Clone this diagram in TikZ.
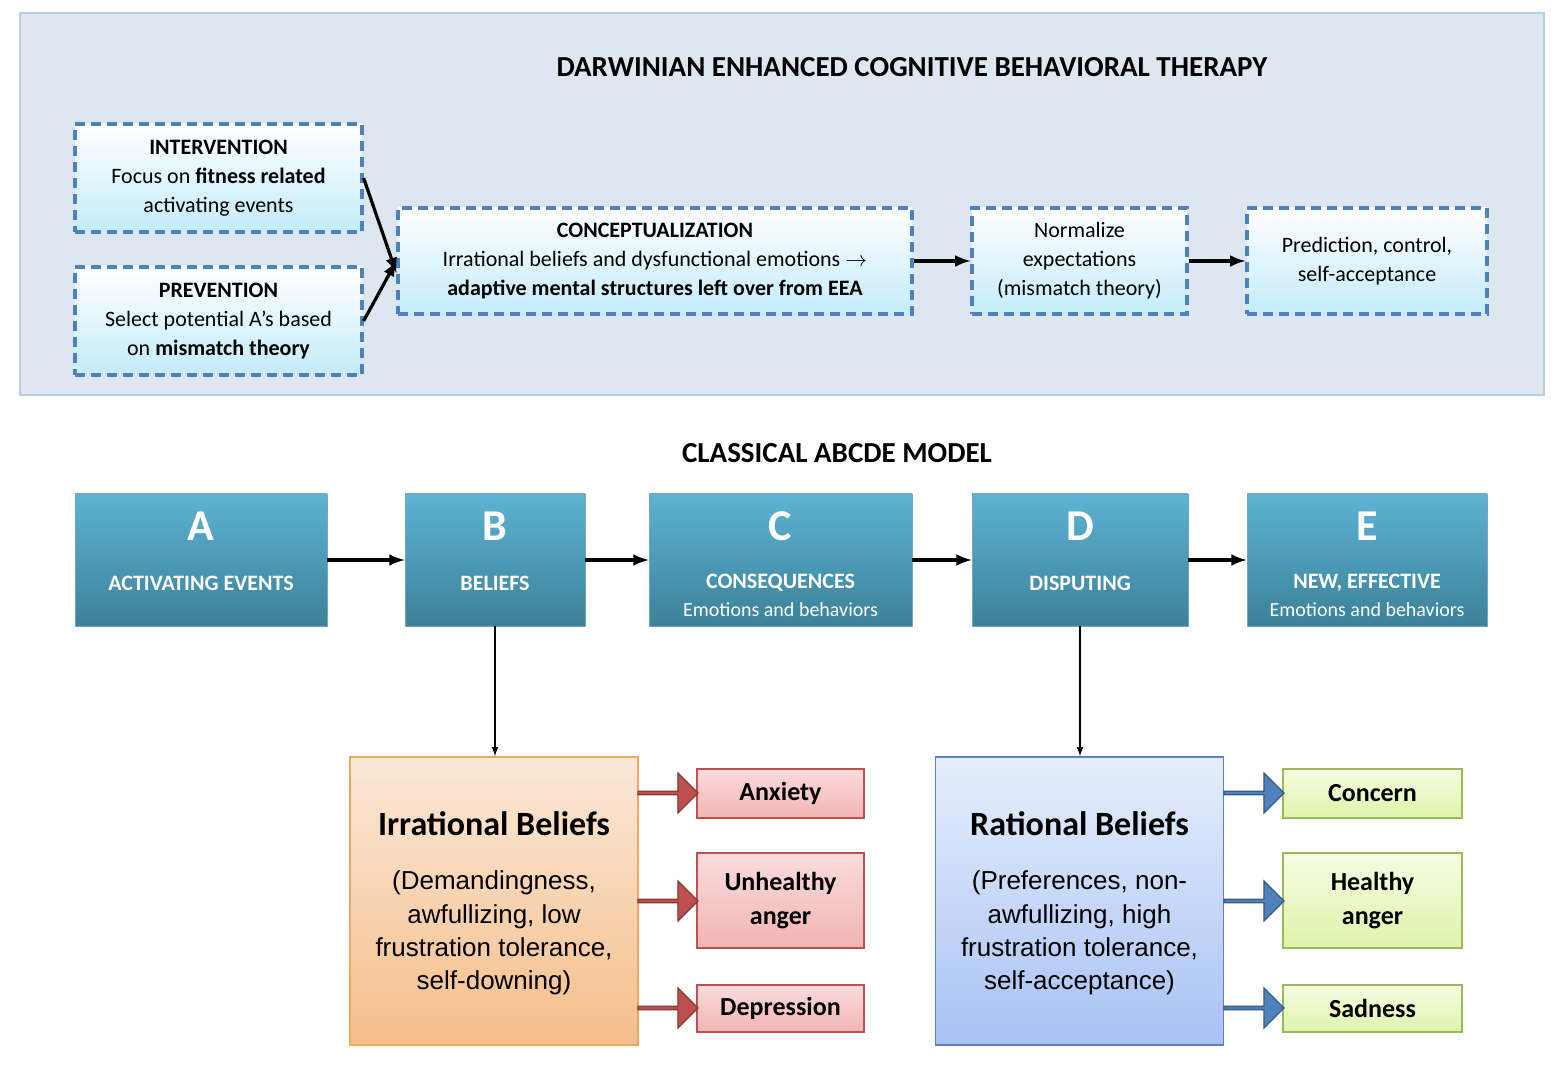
\documentclass[tikz,border=0pt]{standalone}
\usepackage{fontspec}
\setmainfont{Carlito}
\newfontfamily\arialfont{Liberation Sans}
\usetikzlibrary{shapes.arrows}
\definecolor{panelfill}{HTML}{DEE6EF}
\definecolor{panelline}{HTML}{B8CCE4}
\definecolor{dashline}{HTML}{4F81BD}
\definecolor{cyanlight}{HTML}{C3ECFA}
\definecolor{steptop}{HTML}{5DB3D3}
\definecolor{stepbot}{HTML}{3C8199}
\definecolor{orangetop}{HTML}{FBE8D8}
\definecolor{orangebot}{HTML}{F5BE8A}
\definecolor{orangeline}{HTML}{F0A860}
\definecolor{bluetop}{HTML}{E6EEFD}
\definecolor{bluebot}{HTML}{A8C2F4}
\definecolor{blueline}{HTML}{5B80C8}
\definecolor{pinktop}{HTML}{FADCDC}
\definecolor{pinkbot}{HTML}{F1B4B4}
\definecolor{redline}{HTML}{C0504D}
\definecolor{greentop}{HTML}{F6FCE4}
\definecolor{greenbot}{HTML}{DDF4AA}
\definecolor{greenline}{HTML}{9BBB59}
\begin{document}
\begin{tikzpicture}
        [x=0.5pt, y=-0.5pt,
        plan/.style={draw=dashline, dashed, line width=1.6pt, dash pattern=on 5pt off 3pt,
            top color=white, bottom color=cyanlight, align=center, font=\fontsize{11}{14.5}\selectfont,
            inner sep=2pt},
        stage/.style={draw=stepbot!70, top color=steptop, bottom color=stepbot, minimum height=66pt},
        stagetext/.style={text=white, font=\bfseries\fontsize{11}{13}\selectfont},
        belief/.style={minimum width=144pt, minimum height=144pt, line width=0.8pt},
        feel/.style={align=center, font=\bfseries\fontsize{13}{17}\selectfont, line width=0.8pt},
        emo/.style={feel, draw=redline, top color=pinktop, bottom color=pinkbot, minimum width=83.5pt},
        calm/.style={feel, draw=greenline, top color=greentop, bottom color=greenbot, minimum width=89.5pt},
        block/.style={single arrow, minimum height=30pt, minimum width=20pt, single arrow head extend=3pt,
            inner sep=0pt, line width=0.6pt},
        link/.style={-latex, line width=1.6pt},
        thin/.style={-latex, line width=0.6pt},
        inner sep=0pt]

        \useasboundingbox (0,0) rectangle (1562,1068);

        % --- Top panel ---
        \draw[panelline, fill=panelfill, line width=1pt] (20,13) rectangle (1544,395);
        \node[font=\bfseries\fontsize{14.5}{17}\selectfont] (dtitle) at (912,67)
            {DARWINIAN ENHANCED COGNITIVE BEHAVIORAL THERAPY};

        \node[plan, minimum width=143.5pt, minimum height=54pt] (interv) at (218.5,178)
            {\textbf{INTERVENTION}\\Focus on \textbf{fitness related}\\activating events};
        \node[plan, minimum width=143.5pt, minimum height=54pt] (prevent) at (218.5,321)
            {\textbf{PREVENTION}\\Select potential A's based\\on \textbf{mismatch theory}};
        \node[plan, minimum width=257pt, minimum height=53pt] (concept) at (655,261)
            {\textbf{CONCEPTUALIZATION}\\Irrational beliefs and dysfunctional emotions $\rightarrow$\\\textbf{adaptive mental structures left over from EEA}};
        \node[plan, minimum width=107.5pt, minimum height=53pt] (normal) at (1079.5,261)
            {Normalize\\expectations\\(mismatch theory)};
        \node[plan, minimum width=120pt, minimum height=53pt] (predict) at (1367,261)
            {Prediction, control,\\self-acceptance};

        \draw[link] (interv.east) -- ([yshift=-6pt]concept.west);
        \draw[link] (prevent.east) -- ([yshift=0pt]concept.west);
        \draw[link] (concept) -- (normal);
        \draw[link] (normal) -- (predict);

        % --- Classical model ---
        \node[font=\bfseries\fontsize{14.5}{17}\selectfont] (ctitle) at (837,453) {CLASSICAL ABCDE MODEL};

        \foreach \name/\cx/\w/\letter/\lbl/\sub in {
            a/201/126/A/ACTIVATING EVENTS/,
            b/495/90/B/BELIEFS/,
            c/780.5/131.5/C/CONSEQUENCES/Emotions and behaviors,
            d/1080/108/D/DISPUTING/,
            e/1367/120/E/{NEW, EFFECTIVE}/Emotions and behaviors} {
            \node[stage, minimum width=\w pt] (\name) at (\cx,560) {};
            \node[stagetext, font=\bfseries\fontsize{22}{24}\selectfont] (\name l) at (\cx,526) {\letter};
            \node[stagetext] (\name t) at (\cx,583) {\lbl};
            \node[text=white, font=\fontsize{10}{12}\selectfont] (\name s) at (\cx,610) {\sub};
        }

        \draw[link] (a) -- (b);
        \draw[link] (b) -- (c);
        \draw[link] (c) -- (d);
        \draw[link] (d) -- (e);

        % --- Beliefs ---
        \node[belief, draw=orangeline, top color=orangetop, bottom color=orangebot] (irr) at (494,901) {};
        \node[font=\bfseries\fontsize{17}{20}\selectfont] (irrt) at (494,824) {Irrational Beliefs};
        \node[align=center, font=\arialfont\fontsize{13}{16.7}\selectfont] (irrx) at (494,933)
            {(Demandingness,\\awfullizing, low\\frustration tolerance,\\self-downing)};

        \node[belief, draw=blueline, top color=bluetop, bottom color=bluebot] (rat) at (1079.5,901) {};
        \node[font=\bfseries\fontsize{17}{20}\selectfont] (ratt) at (1079.5,824) {Rational Beliefs};
        \node[align=center, font=\arialfont\fontsize{13}{16.7}\selectfont] (ratx) at (1079.5,933)
            {(Preferences, non-\\awfullizing, high\\frustration tolerance,\\self-acceptance)};

        \draw[thin] (b) -- (b |- irr.north);
        \draw[thin] (d) -- (d |- rat.north);

        \node[emo, minimum height=24.5pt] (anx) at (780.5,793.5) {Anxiety};
        \node[emo, minimum height=47.5pt] (unh) at (780.5,900.5) {Unhealthy\\anger};
        \node[emo, minimum height=23.5pt] (dep) at (780.5,1008.5) {Depression};
        \node[calm, minimum height=24.5pt] (con) at (1372.5,793.5) {Concern};
        \node[calm, minimum height=47.5pt] (hea) at (1372.5,900.5) {Healthy\\anger};
        \node[calm, minimum height=23.5pt] (sad) at (1372.5,1008.5) {Sadness};

        \foreach \y/\n in {793/1, 901/2, 1008/3} {
            \node[block, draw=redline!70!black, fill=redline] (ra\n) at (667,\y) {};
            \node[block, draw=dashline!70!black, fill=dashline] (ba\n) at (1253,\y) {};
        }
\end{tikzpicture}
\end{document}
